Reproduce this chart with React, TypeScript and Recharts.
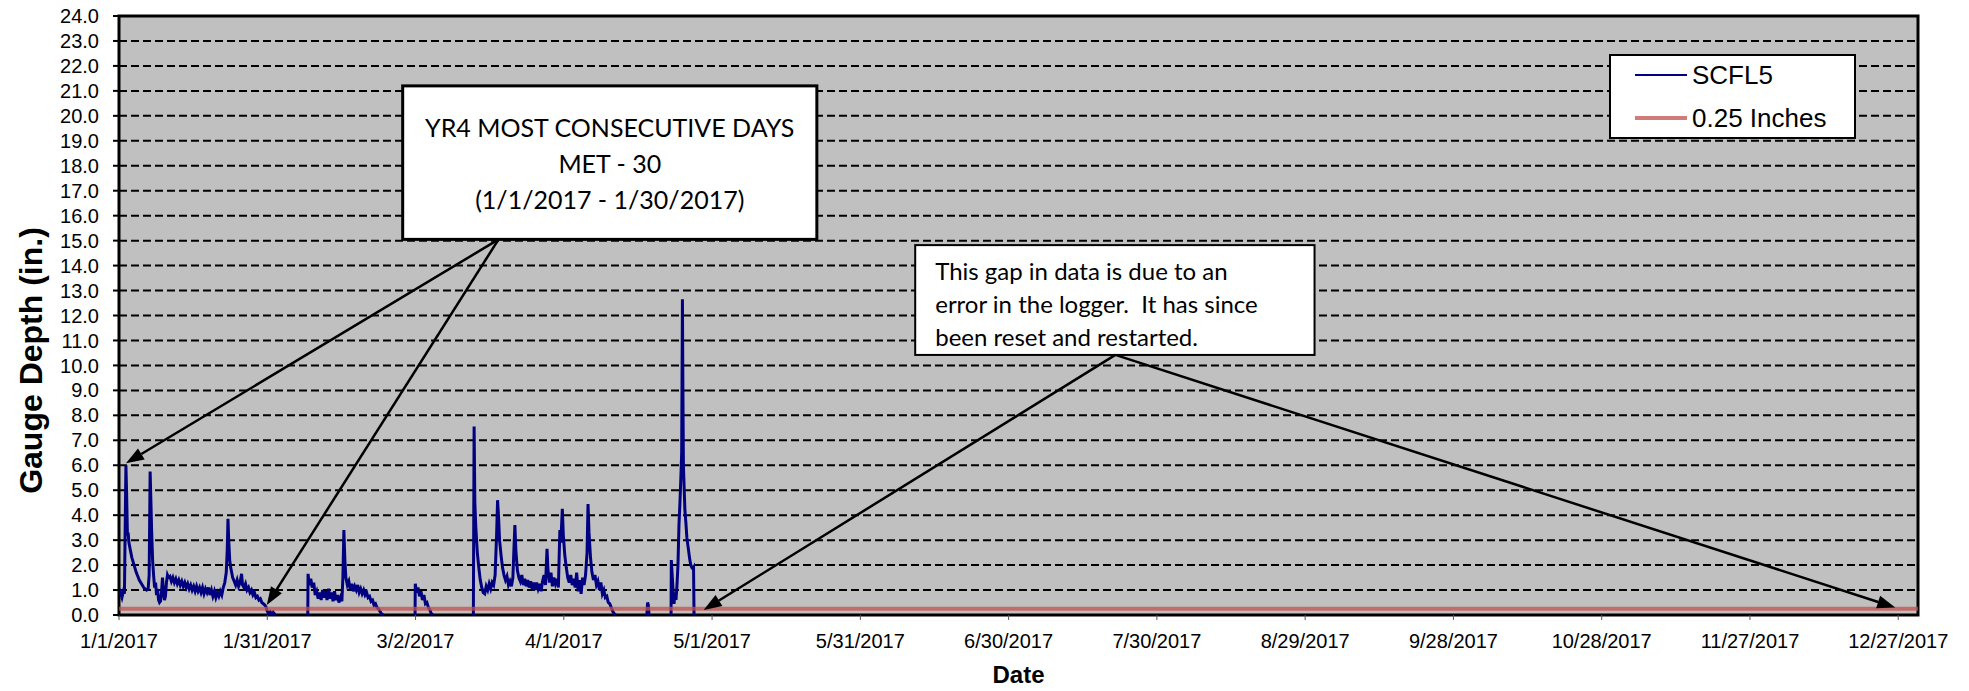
import React from "react";
import {
  LineChart,
  Line,
  XAxis,
  YAxis,
  CartesianGrid,
  ReferenceArea,
  ReferenceLine,
  Legend,
  Label,
} from "recharts";

// Gauge readings as [day of year (0 = 1/1/2017), depth in inches].
// Each run is a stretch of logger data; the gaps between runs are left empty.
const janRun: [number, number][] = [
  [0.0, 0.75], [0.3, 0.9], [0.6, 0.7], [0.9, 0.95], [1.1, 0.85], [1.25, 3.5],
  [1.4, 6.0], [1.55, 4.8], [1.7, 3.2], [1.85, 3.3], [2.0, 2.9], [2.3, 2.6],
  [2.6, 2.3], [2.9, 2.1], [3.2, 1.9], [3.5, 1.7], [3.8, 1.55], [4.1, 1.4],
  [4.4, 1.3], [4.7, 1.2], [5.0, 1.1], [5.3, 1.05], [5.6, 1.0], [5.9, 1.05],
  [6.1, 1.6], [6.3, 5.75], [6.45, 4.6], [6.6, 3.4], [6.8, 2.2], [7.0, 1.6],
  [7.2, 1.1], [7.4, 1.3], [7.6, 0.8], [7.8, 1.05], [8.0, 0.6], [8.2, 0.5],
  [8.4, 0.55], [8.6, 0.9], [8.8, 1.5], [9.0, 0.95], [9.2, 0.6], [9.4, 0.75],
  [9.6, 1.3], [9.8, 1.6], [10.0, 1.5], [10.3, 1.55], [10.6, 1.35], [10.9, 1.5],
  [11.2, 1.3], [11.5, 1.45], [11.8, 1.25], [12.1, 1.4], [12.4, 1.2], [12.7, 1.35],
  [13.0, 1.15], [13.3, 1.3], [13.6, 1.1], [13.9, 1.25], [14.2, 1.05], [14.5, 1.2],
  [14.8, 1.0], [15.1, 1.15], [15.4, 0.95], [15.7, 1.15], [16.0, 0.95], [16.3, 1.1],
  [16.6, 0.9], [16.9, 1.1], [17.2, 0.85], [17.5, 1.05], [17.8, 0.9], [18.1, 1.1],
  [18.4, 0.8], [18.7, 1.0], [19.0, 0.75], [19.3, 0.95], [19.6, 0.7], [19.9, 0.9],
  [20.2, 0.75], [20.5, 0.95], [20.8, 0.8], [21.1, 1.1], [21.4, 1.3], [21.7, 1.7],
  [21.9, 2.6], [22.05, 3.85], [22.2, 3.0], [22.4, 2.2], [22.6, 1.9], [22.8, 1.7],
  [23.0, 1.5], [23.3, 1.35], [23.6, 1.2], [23.9, 1.4], [24.2, 1.15], [24.5, 1.3],
  [24.8, 1.65], [25.0, 1.2], [25.3, 1.1], [25.6, 1.25], [25.9, 1.0], [26.2, 1.1],
  [26.5, 0.9], [26.8, 1.0], [27.1, 0.8], [27.4, 0.9], [27.7, 0.7], [28.0, 0.75],
  [28.3, 0.6], [28.6, 0.65], [28.9, 0.5], [29.2, 0.45], [29.5, 0.4], [29.8, 0.3],
  [30.0, 0.15], [30.3, 0.05], [30.6, 0.12], [30.9, 0.0], [31.2, 0.1], [31.6, 0.0],
];

const febRun: [number, number][] = [
  [38.2, 0.0], [38.25, 1.65], [38.5, 1.2], [38.8, 1.45], [39.1, 1.1], [39.4, 1.3],
  [39.7, 0.8], [40.0, 0.95], [40.3, 0.65], [40.6, 0.9], [40.9, 0.6], [41.2, 1.0],
  [41.5, 0.7], [41.8, 0.95], [42.1, 0.6], [42.4, 1.05], [42.7, 0.65], [43.0, 0.9],
  [43.3, 0.55], [43.6, 0.95], [43.9, 0.6], [44.2, 0.8], [44.5, 0.5], [44.8, 0.7],
  [45.1, 0.55], [45.3, 1.5], [45.5, 3.4], [45.7, 2.2], [45.9, 1.5], [46.2, 1.2],
  [46.5, 1.35], [46.8, 1.0], [47.1, 1.25], [47.4, 0.95], [47.7, 1.15], [48.0, 1.0],
  [48.3, 1.2], [48.6, 0.9], [48.9, 1.05], [49.2, 0.85], [49.5, 1.0], [49.8, 0.8],
  [50.1, 0.9], [50.4, 0.7], [50.7, 0.75], [51.0, 0.55], [51.3, 0.6], [51.6, 0.4],
  [51.9, 0.45], [52.2, 0.3], [52.5, 0.25], [52.8, 0.15], [53.1, 0.05], [53.5, 0.0],
];

const marchRun: [number, number][] = [
  [59.9, 0.0], [59.95, 1.25], [60.2, 0.9], [60.5, 1.1], [60.8, 0.75], [61.1, 0.95],
  [61.4, 0.6], [61.7, 0.8], [62.0, 0.45], [62.3, 0.5], [62.6, 0.3], [62.9, 0.2],
  [63.2, 0.05], [63.6, 0.0],
];

const springRun: [number, number][] = [
  [71.7, 0.0], [71.85, 7.55], [72.0, 4.5], [72.2, 3.5], [72.5, 2.5], [72.8, 1.9],
  [73.1, 1.4], [73.4, 1.1], [73.7, 0.9], [74.0, 0.85], [74.3, 1.15], [74.6, 1.0],
  [74.9, 1.25], [75.2, 1.05], [75.5, 1.3], [75.8, 1.2], [76.1, 1.6], [76.4, 3.2],
  [76.6, 4.6], [76.8, 3.9], [77.0, 3.0], [77.3, 2.4], [77.6, 1.9], [77.9, 1.6],
  [78.2, 1.4], [78.5, 1.55], [78.8, 1.2], [79.1, 1.35], [79.4, 1.15], [79.7, 1.5],
  [79.9, 2.6], [80.1, 3.6], [80.3, 2.6], [80.6, 1.8], [80.9, 1.5], [81.2, 1.35],
  [81.5, 1.6], [81.8, 1.2], [82.1, 1.45], [82.4, 1.15], [82.7, 1.4], [83.0, 1.1],
  [83.3, 1.35], [83.6, 1.05], [83.9, 1.3], [84.2, 1.0], [84.5, 1.3], [84.8, 1.05],
  [85.1, 1.25], [85.4, 0.95], [85.7, 1.35], [86.0, 1.6], [86.3, 1.2], [86.6, 2.65],
  [86.8, 1.8], [87.1, 1.3], [87.4, 1.7], [87.7, 1.15], [88.0, 1.5], [88.3, 1.25],
  [88.6, 1.45], [88.9, 1.1], [89.2, 3.4], [89.4, 2.9], [89.7, 4.25], [89.9, 3.2],
  [90.2, 2.4], [90.5, 1.9], [90.8, 1.5], [91.1, 1.3], [91.4, 1.6], [91.7, 1.2],
  [92.0, 1.45], [92.3, 1.1], [92.6, 1.7], [92.9, 0.95], [93.2, 1.4], [93.5, 0.85],
  [93.8, 1.5], [94.1, 1.2], [94.4, 1.6], [94.7, 2.5], [94.9, 4.45], [95.1, 3.3],
  [95.4, 2.3], [95.7, 1.7], [96.0, 1.4], [96.3, 1.6], [96.6, 1.2], [96.9, 1.35],
  [97.2, 1.0], [97.5, 1.3], [97.8, 0.85], [98.1, 1.0], [98.4, 0.7], [98.7, 0.75],
  [99.0, 0.5], [99.3, 0.45], [99.6, 0.3], [99.9, 0.15], [100.2, 0.05], [100.5, 0.0],
];

const aprilBlip: [number, number][] = [
  [106.8, 0.0], [106.95, 0.5], [107.1, 0.4], [107.25, 0.0],
];

const aprilStorm: [number, number][] = [
  [111.7, 0.0], [111.75, 2.2], [111.9, 1.7], [112.1, 1.0], [112.3, 0.45], [112.5, 0.9],
  [112.7, 0.6], [112.9, 1.2], [113.1, 2.0], [113.3, 3.6], [113.5, 4.5], [113.7, 5.6],
  [113.85, 6.5], [114.0, 12.65], [114.1, 9.0], [114.2, 6.0], [114.3, 5.4], [114.5, 4.2],
  [114.7, 3.7], [114.9, 3.1], [115.1, 2.8], [115.3, 2.5], [115.5, 2.2], [115.7, 2.0],
  [115.9, 1.9], [116.1, 1.85], [116.25, 1.9], [116.35, 0.0],
];

const thresholdDays = [0, 364];
const thresholdDepth = 0.25;

const xTickDays = [0, 30, 60, 90, 120, 150, 180, 210, 240, 270, 300, 330, 360];
const xTickLabels = [
  "1/1/2017", "1/31/2017", "3/2/2017", "4/1/2017", "5/1/2017", "5/31/2017",
  "6/30/2017", "7/30/2017", "8/29/2017", "9/28/2017", "10/28/2017",
  "11/27/2017", "12/27/2017",
];
const yTicks = [
  0, 1, 2, 3, 4, 5, 6, 7, 8, 9, 10, 11, 12, 13, 14, 15, 16, 17, 18, 19, 20,
  21, 22, 23, 24,
];

const seriesNames = ["SCFL5", "0.25 Inches"];

// join the runs, with a null point between them so the line breaks
const runs = [janRun, febRun, marchRun, springRun, aprilBlip, aprilStorm];
const depthData = runs.flatMap((run, i) => {
  const pts: { day: number; depth: number | null }[] = run.map(([day, depth]) => ({ day, depth }));
  if (i < runs.length - 1) pts.push({ day: run[run.length - 1][0] + 0.05, depth: null });
  return pts;
});
const thresholdData = thresholdDays.map((day) => ({ day, limit: thresholdDepth }));

const NAVY = "#000080";
const LIMIT_RED = "#C0504D";
const AXIS_FONT = "'Liberation Sans', Arial, sans-serif";
const NOTE_FONT = "Lato, 'Noto Sans', sans-serif";

const Arrow = (props: any) => {
  const { x1, y1, x2, y2 } = props;
  const ang = Math.atan2(y2 - y1, x2 - x1);
  const len = 18;
  const half = 6.5;
  const bx = x2 - len * Math.cos(ang);
  const by = y2 - len * Math.sin(ang);
  const px = -Math.sin(ang) * half;
  const py = Math.cos(ang) * half;
  return (
    <g>
      <line x1={x1} y1={y1} x2={bx} y2={by} stroke="#000" strokeWidth={2.5} />
      <polygon
        points={`${x2},${y2} ${bx + px},${by + py} ${bx - px},${by - py}`}
        fill="#000"
      />
    </g>
  );
};

type NoteOpts = {
  lines: string[];
  anchor: "middle" | "start";
  fontSize: number;
  first: number;
  lead: number;
  padX: number;
  border: number;
};

const noteShape = (o: NoteOpts) => (props: any) => {
  const { x, y, width, height } = props;
  const tx = o.anchor === "middle" ? x + width / 2 : x + o.padX;
  return (
    <g>
      <rect x={x} y={y} width={width} height={height} fill="#fff" stroke="#000" strokeWidth={o.border} />
      {o.lines.map((t, i) => (
        <text
          key={i}
          x={tx}
          y={y + o.first + i * o.lead}
          textAnchor={o.anchor}
          fontSize={o.fontSize}
          fontFamily={NOTE_FONT}
          fill="#000"
          style={{ whiteSpace: "pre" }}
        >
          {t}
        </text>
      ))}
    </g>
  );
};

const recordNote = noteShape({
  lines: ["YR4 MOST CONSECUTIVE DAYS", "MET - 30", "(1/1/2017 - 1/30/2017)"],
  anchor: "middle",
  fontSize: 25,
  first: 51,
  lead: 36,
  padX: 0,
  border: 3,
});

const gapNote = noteShape({
  lines: ["This gap in data is due to an", "error in the logger.  It has since", "been reset and restarted."],
  anchor: "start",
  fontSize: 24,
  first: 35,
  lead: 33,
  padX: 20,
  border: 2,
});

const LegendBox = () => (
  <svg width={247} height={85} style={{ display: "block" }}>
    <rect x={1} y={1} width={245} height={83} fill="#fff" stroke="#000" strokeWidth={2} />
    <line x1={26} x2={78} y1={21} y2={21} stroke={NAVY} strokeWidth={2} />
    <text x={83} y={30} fontSize={26} fontFamily={AXIS_FONT} fill="#000">
      {seriesNames[0]}
    </text>
    <line x1={26} x2={78} y1={64} y2={64} stroke={LIMIT_RED} strokeOpacity={0.75} strokeWidth={4} />
    <text x={83} y={73} fontSize={26} fontFamily={AXIS_FONT} fill="#000">
      {seriesNames[1]}
    </text>
  </svg>
);

const GaugeChart = () => {
  return (
    <LineChart width={1969} height={691} margin={{ top: 16, right: 51, bottom: 0, left: 0 }}>
      <CartesianGrid
        vertical={false}
        fill="#C0C0C0"
        fillOpacity={1}
        stroke="#000"
        strokeWidth={2}
        strokeDasharray="8 4"
      />
      <XAxis
        type="number"
        dataKey="day"
        domain={[0, 364]}
        ticks={xTickDays}
        interval={0}
        allowDataOverflow
        tickFormatter={(d: number) => xTickLabels[xTickDays.indexOf(d)]}
        tick={{ fill: "#000", fontSize: 20, fontFamily: AXIS_FONT }}
        tickSize={5}
        tickMargin={14}
        tickLine={{ stroke: "#555", strokeWidth: 1 }}
        axisLine={false}
        height={76}
      >
        <Label
          content={(p: any) => (
            <text
              x={p.viewBox.x + p.viewBox.width / 2}
              y={p.viewBox.y + 68}
              textAnchor="middle"
              fontSize={24}
              fontWeight="bold"
              fontFamily={AXIS_FONT}
              fill="#000"
            >
              Date
            </text>
          )}
        />
      </XAxis>
      <YAxis
        type="number"
        domain={[0, 24]}
        ticks={yTicks}
        interval={0}
        allowDataOverflow
        tickFormatter={(v: number) => v.toFixed(1)}
        tick={{ fill: "#000", fontSize: 20, fontFamily: AXIS_FONT }}
        tickSize={6}
        tickMargin={14}
        tickLine={{ stroke: "#000", strokeWidth: 2 }}
        axisLine={false}
        width={119}
      >
        <Label
          content={(p: any) => {
            const cx = p.viewBox.x + 31;
            const cy = p.viewBox.y + p.viewBox.height / 2 + 45;
            return (
              <text
                x={cx}
                y={cy}
                transform={`rotate(-90 ${cx} ${cy})`}
                textAnchor="middle"
                dominantBaseline="central"
                fontSize={32}
                fontWeight="bold"
                fontFamily={AXIS_FONT}
                fill="#000"
              >
                Gauge Depth (in.)
              </text>
            );
          }}
        />
      </YAxis>
      <Line
        data={depthData}
        dataKey="depth"
        name={seriesNames[0]}
        type="linear"
        stroke={NAVY}
        strokeWidth={3}
        dot={false}
        activeDot={false}
        connectNulls={false}
        isAnimationActive={false}
      />
      <Line
        data={thresholdData}
        dataKey="limit"
        name={seriesNames[1]}
        type="linear"
        stroke={LIMIT_RED}
        strokeOpacity={0.75}
        strokeWidth={4}
        dot={false}
        activeDot={false}
        isAnimationActive={false}
      />
      <ReferenceArea x1={0} x2={364} y1={0} y2={24} fill="none" stroke="#000" strokeWidth={3} />
      <ReferenceArea x1={57.4} x2={141.2} y1={15.05} y2={21.2} shape={recordNote} />
      <ReferenceArea x1={161.1} x2={241.9} y1={10.42} y2={14.82} shape={gapNote} />
      <ReferenceLine segment={[{ x: 76.8, y: 15.05 }, { x: 1.4, y: 6.08 }]} shape={Arrow} />
      <ReferenceLine segment={[{ x: 76.8, y: 15.05 }, { x: 29.9, y: 0.4 }]} shape={Arrow} />
      <ReferenceLine segment={[{ x: 201.6, y: 10.42 }, { x: 118.3, y: 0.2 }]} shape={Arrow} />
      <ReferenceLine segment={[{ x: 201.6, y: 10.42 }, { x: 359.4, y: 0.3 }]} shape={Arrow} />
      <Legend
        layout="vertical"
        align="center"
        verticalAlign="middle"
        wrapperStyle={{ left: 1609, top: 54, width: 247, height: 85 }}
        content={() => <LegendBox />}
      />
    </LineChart>
  );
};

export default function App() {
  return (
    <div style={{ position: "absolute", left: 0, top: 0, background: "#fff" }}>
      <GaugeChart />
    </div>
  );
}
